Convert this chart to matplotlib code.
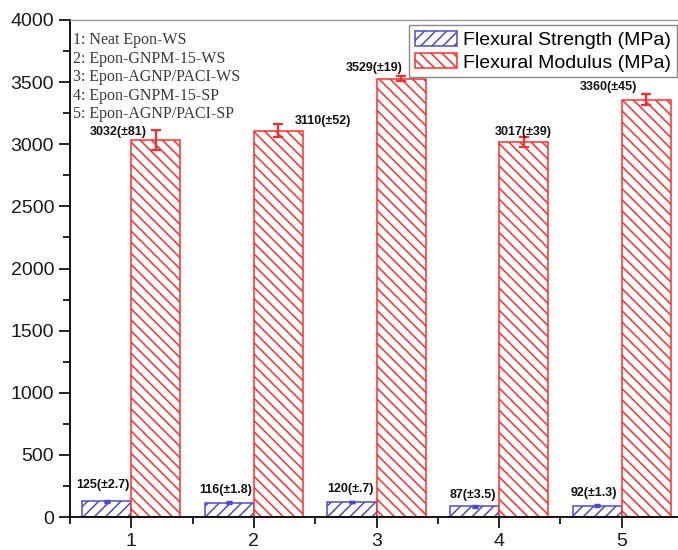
import matplotlib
matplotlib.use('Agg')
from matplotlib import pyplot as plt

# 样品编号和力学性能数据
samples = [1, 2, 3, 4, 5]
sample_names = ['1: Neat Epon-WS', '2: Epon-GNPM-15-WS', '3: Epon-AGNP/PACI-WS',
                '4: Epon-GNPM-15-SP', '5: Epon-AGNP/PACI-SP']
strength = [125, 116, 120, 87, 92]          # 弯曲强度 MPa
strength_err = [2.7, 1.8, 0.7, 3.5, 1.3]
strength_txt = ['125(±2.7)', '116(±1.8)', '120(±.7)', '87(±3.5)', '92(±1.3)']
modulus = [3032, 3110, 3529, 3017, 3360]    # 弯曲模量 MPa
modulus_err = [81, 52, 19, 39, 45]
modulus_txt = ['3032(±81)', '3110(±52)', '3529(±19)', '3017(±39)', '3360(±45)']

# 数值标注的偏移量 (dx, dy)
mod_offset = [(-0.31, -14), (0.36, 25), (-0.22, 66), (0.0, 43), (-0.31, 56)]
str_offset = [(-0.03, 130), (-0.03, 99), (-0.01, 104), (-0.01, 87), (-0.03, 100)]

plt.rcParams['font.family'] = ['Liberation Sans', 'DejaVu Sans']
plt.rcParams['hatch.linewidth'] = 1.1

blue = '#4b4bcc'
red = '#ff2b2b'
w = 0.4

fig = plt.figure(figsize=(6.78, 5.5), dpi=100)
ax = fig.add_axes([70 / 678, 1 - 517 / 550, 613 / 678, 497 / 550])

x_str = [s - w / 2 for s in samples]
x_mod = [s + w / 2 for s in samples]

ax.bar(x_str, strength, width=w, facecolor='white', edgecolor=blue, hatch='///',
       linewidth=1.1, label='Flexural Strength (MPa)', zorder=2)
ax.bar(x_mod, modulus, width=w, facecolor='white', edgecolor=red, hatch='\\\\\\',
       linewidth=1.1, label='Flexural Modulus (MPa)', zorder=2)

ax.errorbar(x_str, strength, yerr=strength_err, fmt='none', ecolor=blue,
            elinewidth=1.5, capsize=2.5, capthick=2.5, zorder=3)
ax.errorbar(x_mod, modulus, yerr=modulus_err, fmt='none', ecolor=red,
            elinewidth=1.6, capsize=3.6, capthick=1.6, zorder=3)

###########################添加数值###################################
for i in range(len(samples)):
    dx, dy = mod_offset[i]
    ax.text(x_mod[i] + dx, modulus[i] + modulus_err[i] + dy, modulus_txt[i],
            ha='center', va='center', fontsize=9, fontweight='bold', color='#111111')
    dx, dy = str_offset[i]
    ax.text(x_str[i] + dx, strength[i] + strength_err[i] + dy, strength_txt[i],
            ha='center', va='center', fontsize=9, fontweight='bold', color='#111111')

# 左上角样品说明
ax.text(0.005, 0.975, '\n'.join(sample_names), transform=ax.transAxes,
        ha='left', va='top', fontsize=11.5, family='Liberation Serif',
        color='#3a3a3a', linespacing=1.2)

###########################坐标轴###################################
ax.set_xlim(0.5, 5.5)
ax.set_ylim(0, 4000)
ax.set_xticks(samples)
ax.set_xticks([0.5, 1.5, 2.5, 3.5, 4.5, 5.5], minor=True)
ax.set_yticks(range(0, 4001, 500))
ax.set_yticks(range(250, 4000, 500), minor=True)
ax.tick_params(which='major', direction='out', length=8, width=1.2,
               labelsize=14, labelcolor='#1a1a1a')
ax.tick_params(which='minor', direction='out', length=5, width=1.2)
ax.spines['right'].set_visible(False)
ax.spines['top'].set_color('#999999')
ax.spines['top'].set_linewidth(1.0)
ax.spines['left'].set_linewidth(1.3)
ax.spines['bottom'].set_linewidth(1.3)

leg = ax.legend(loc='upper right', bbox_to_anchor=(677 / 678, 1 - 25 / 550),
                bbox_transform=fig.transFigure, borderaxespad=0, fontsize=14,
                fancybox=False, framealpha=1, edgecolor='#888888',
                handlelength=2.2, handleheight=0.8, handletextpad=0.3,
                labelspacing=0.22, borderpad=0.3)
leg.get_frame().set_linewidth(1.0)

plt.savefig('out.png', dpi=100)
